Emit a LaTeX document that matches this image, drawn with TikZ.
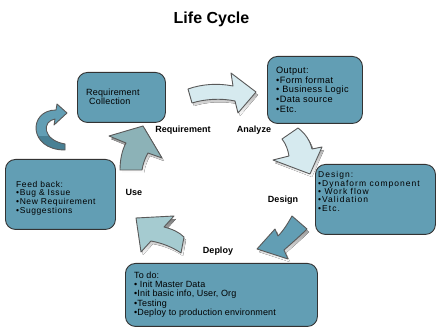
\documentclass[tikz,border=0pt]{standalone}
\usepackage{fontspec}
\setmainfont{Liberation Sans}
\usetikzlibrary{positioning}
\definecolor{boxfill}{RGB}{98,158,180}
\definecolor{curldark}{RGB}{72,128,148}
\definecolor{palearrow}{RGB}{214,234,239}
\definecolor{midarrow}{RGB}{165,203,208}
\definecolor{grayarrow}{RGB}{140,178,183}
\definecolor{shade}{RGB}{64,64,64}
\tikzset{
  stage/.style={draw=black!80, fill=boxfill, rounded corners=10pt, line width=0.9pt,
    inner sep=0pt, anchor=north west},
  info/.style={anchor=north west, align=left, inner sep=0pt},
  steplabel/.style={font=\bfseries\fontsize{9}{10}\selectfont},
  blockarrow/.style={draw=black!65, line width=0.9pt, line join=round},
}
% block arrow with its shadow: #1 fill, #2 path
\newcommand{\stagearrow}[2]{%
  \fill[shade, shift={(2,3)}] #2;
  \filldraw[blockarrow, fill=#1] #2;}
% box text font: #1 size, #2 leading, #3 tracking
\newcommand{\boxfont}[3]{\fontsize{#1}{#2}\selectfont\addfontfeatures{LetterSpace=#3}}
\begin{document}
\begin{tikzpicture}[x=1pt, y=-1pt]
  \useasboundingbox (0,0) rectangle (437,331);
  \node[font=\bfseries\fontsize{16}{18}\selectfont] (title) at (211.5,19) {Life Cycle};
  % boxes
  \node[stage, minimum width=88pt, minimum height=50pt] (reqbox) at (77,72) {};
  \node[stage, minimum width=95pt, minimum height=67pt] (outbox) at (267,56) {};
  \node[stage, minimum width=120pt, minimum height=70pt] (designbox) at (315,164) {};
  \node[stage, minimum width=110pt, minimum height=70pt] (feedbox) at (5,159) {};
  \node[stage, minimum width=192pt, minimum height=63pt] (todobox) at (125,263) {};
  % box texts
  \node[info, font=\boxfont{9}{9}{2}] (reqtext) at (86,89)
    {Requirement\\\hspace{3pt}Collection};
  \node[info, font=\boxfont{9.2}{9.6}{4}] (outtext) at (276,67)
    {Output:\\\textbullet Form format\\\textbullet\ Business Logic\\\textbullet Data source\\\textbullet Etc.};
  \node[info, font=\boxfont{8.5}{8.3}{12}] (designtext) at (318,171.5)
    {Design:\\\textbullet Dynaform component\\\textbullet\ Work flow\\\textbullet Validation\\\textbullet Etc.};
  \node[info, font=\boxfont{8.5}{7.8}{7}] (feedtext) at (16,181.5)
    {Feed back:\\\textbullet Bug \& Issue\\\textbullet New Requirement\\\textbullet Suggestions};
  \node[info, font=\boxfont{9}{9.3}{1.5}] (todotext) at (134,271.5)
    {To do:\\\textbullet\ Init Master Data\\\textbullet Init basic info, User, Org\\\textbullet Testing\\\textbullet Deploy to production environment};
  % step labels
  \node[steplabel] (requirement) at (183,130) {Requirement};
  \node[steplabel] (analyze) at (254,130) {Analyze};
  \node[steplabel] (design) at (283,200) {Design};
  \node[steplabel] (deploy) at (218,251) {Deploy};
  \node[steplabel] (use) at (134,192) {Use};
  % block arrows
  \stagearrow{palearrow}{(188,89) .. controls (202,84) and (218,83) .. (233,86) -- (231,73) -- (256,92)
    -- (238,113) -- (235,101) .. controls (221,98) and (205,99) .. (192,103) -- cycle}
  \stagearrow{palearrow}{(282,139) -- (298,128) .. controls (306,134) and (310,141) .. (312,149)
    -- (322,147) -- (310,174) -- (273,160) -- (289,156) .. controls (288,150) and (286,144) .. (282,139) -- cycle}
  \stagearrow{boxfill}{(292,216) -- (307,229) .. controls (300,236) and (292,243) .. (284,250)
    -- (288,259) -- (257,249) -- (275,229) -- (278,236) .. controls (284,230) and (288,223) .. (292,216) -- cycle}
  \stagearrow{midarrow}{(136,218) -- (174,216) -- (164,227) .. controls (172,229) and (179,232) .. (184,237)
    -- (181,253) .. controls (172,247) and (162,243) .. (151,241) -- (141,252) -- cycle}
  \stagearrow{grayarrow}{(109,136) -- (143,126) -- (162,158) -- (148,153) .. controls (145,158) and (143,164) .. (142,170)
    -- (120,170) .. controls (120,160) and (122,150) .. (126,143) -- cycle}
  % feedback curl, darker underside
  \def\curl{(56,110) -- (57,104) -- (67,113) -- (54,125) -- (55,119)
    .. controls (42,121) and (42,140) .. (65,144) -- (65,150)
    .. controls (28,150) and (28,110) .. (56,110) -- cycle}
  \fill[boxfill] \curl;
  \begin{scope}
    \clip (30,137) rectangle (70,152);
    \fill[curldark] \curl;
  \end{scope}
  \draw[blockarrow] \curl;
\end{tikzpicture}
\end{document}
